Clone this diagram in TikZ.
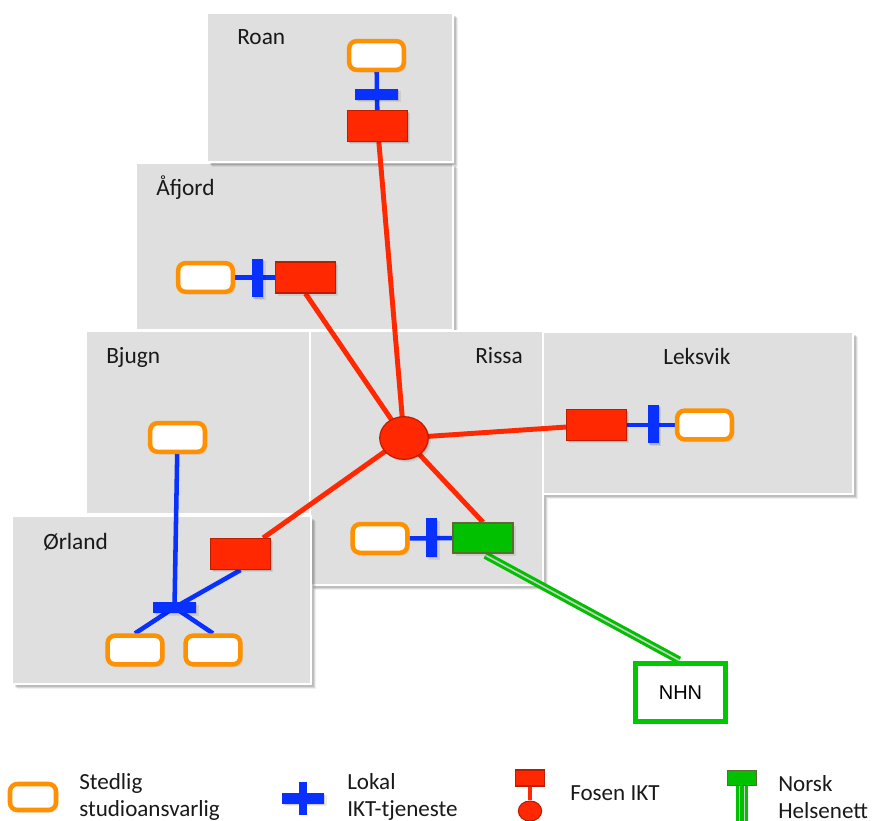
\documentclass[tikz,border=0pt]{standalone}
\usepackage{fontspec}
\setmainfont{Carlito}
\newfontfamily\arialfont{Liberation Sans}
\usetikzlibrary{shadows,shapes.geometric}
\definecolor{panelgray}{RGB}{223,223,223}
\definecolor{hred}{RGB}{255,40,0}
\definecolor{hredd}{RGB}{185,30,0}
\definecolor{hblue}{RGB}{8,48,255}
\definecolor{horange}{RGB}{255,145,0}
\definecolor{hgreen}{RGB}{0,192,0}
\definecolor{hgreend}{RGB}{95,105,50}
\definecolor{nhngreen}{RGB}{0,200,0}
\definecolor{lgray}{RGB}{205,205,205}
\pgfdeclarelayer{panels}
\pgfdeclarelayer{lines}
\pgfsetlayers{panels,lines,main}
\begin{document}
\begin{tikzpicture}[x=0.75pt,y=-0.75pt,
 panelshadow/.style={
   drop shadow={shadow xshift=1pt, shadow yshift=-1pt, opacity=0.12, fill=black},
   drop shadow={shadow xshift=2pt, shadow yshift=-2pt, opacity=0.12, fill=black},
   drop shadow={shadow xshift=3pt, shadow yshift=-3pt, opacity=0.10, fill=black},
   drop shadow={shadow xshift=4pt, shadow yshift=-4pt, opacity=0.06, fill=black}},
 smallshadow/.style={
   drop shadow={shadow xshift=1pt, shadow yshift=-1pt, opacity=0.12, fill=black},
   drop shadow={shadow xshift=2pt, shadow yshift=-2pt, opacity=0.08, fill=black}},
 panel/.style={fill=panelgray, draw=white, line width=1.5pt, panelshadow},
 lbl/.style={anchor=base west, font=\fontsize{17.5}{20}\selectfont, text=black!90, inner sep=0pt},
 leg/.style={anchor=west, align=left, font=\fontsize{17.3}{20.5}\selectfont, text=black!90, inner sep=0pt},
 stud/.style={draw=horange, fill=white, line width=3.4pt, rounded corners=5.5pt,
   minimum width=41pt, minimum height=21.5pt, inner sep=0pt, smallshadow},
 fosen/.style={draw=hredd, fill=hred, line width=0.9pt,
   minimum width=45pt, minimum height=23.25pt, inner sep=0pt, smallshadow},
 nhgreen/.style={draw=hgreend, fill=hgreen, line width=1.2pt,
   minimum width=45pt, minimum height=22.5pt, inner sep=0pt, smallshadow},
 hbar/.style={fill=hblue, minimum width=32.25pt, minimum height=8.25pt, inner sep=0pt, smallshadow},
 vbar/.style={fill=hblue, minimum width=8.25pt, minimum height=29pt, inner sep=0pt, smallshadow},
 hubstyle/.style={ellipse, draw=hredd, fill=hred, line width=0.9pt,
   minimum width=36.4pt, minimum height=32pt, inner sep=0pt, smallshadow},
 redline/.style={draw=hred, line width=3.7pt},
 blueline/.style={draw=hblue, line width=3.4pt},
 nhnline/.style={draw=hgreen, line width=2.3pt, double=lgray, double distance=1.2pt},
]
\useasboundingbox (0,0) rectangle (875,821);

% panels
\begin{pgfonlayer}{panels}
\draw[panel] (136,163) rectangle (453,330);
\draw[panel] (207,13) rectangle (453,162);
\draw[panel] (86,331) rectangle (310,514);
\draw[panel] (310,331) rectangle (543,585);
\draw[panel] (543,332) rectangle (853,494);
\draw[panel] (12,516) rectangle (311,684);
\end{pgfonlayer}

% region labels
\node[lbl] (lroan) at (237,45) {Roan};
\node[lbl] (lafj) at (156,195) {Åfjord};
\node[lbl] (lbju) at (106,363) {Bjugn};
\node[lbl] (lorl) at (43,549) {Ørland};
\node[lbl] (lris) at (475,363) {Rissa};
\node[lbl] (llek) at (663,364) {Leksvik};

% Roan
\node[stud] (roanS) at (376.5,55.5) {};
\node[fosen] (roanF) at (377.5,126) {};
% Åfjord
\node[stud] (afS) at (205.5,277.5) {};
\node[fosen] (afF) at (305.5,277.5) {};
% Bjugn
\node[stud] (bjS) at (177.5,437.5) {};
% Ørland
\node[fosen] (orF) at (240.5,554) {};
\node[stud] (orS1) at (135,650) {};
\node[stud] (orS2) at (213,650) {};
% Rissa
\node[stud] (riS) at (380,538.5) {};
\node[nhgreen] (riG) at (483,538) {};
\node[hubstyle] (hub) at (404,438) {};
% Leksvik
\node[fosen] (lkF) at (596.5,425) {};
\node[stud] (lkS) at (704.5,425) {};
% NHN
\node[draw=nhngreen, fill=white, line width=3.8pt, minimum width=67.5pt, minimum height=43.5pt,
  inner sep=0pt, smallshadow, font=\arialfont\fontsize{15}{18}\selectfont] (nhn) at (680.5,692.5) {NHN};

% blue bars
\node[hbar] (roanB) at (376.5,94) {};
\node[vbar] (afB) at (257.5,278) {};
\node[hbar] (orB) at (174.5,607.5) {};
\node[vbar] (riB) at (431.5,537.5) {};
\node[vbar] (lkB) at (653,424) {};

% connectors
\begin{pgfonlayer}{lines}
\draw[blueline] (roanS) -- (roanF);
\draw[blueline] (afS) -- (afF);
\draw[blueline] (riS) -- (riG);
\draw[blueline] (lkF) -- (lkS);
\draw[blueline] (bjS) -- (orB.center);
\draw[blueline] (orF.south) -- (orB.center);
\draw[blueline] (orB.center) -- (orS1.north);
\draw[blueline] (orB.center) -- (orS2.north);
\draw[redline] (roanF) -- (hub.center);
\draw[redline] (afF.south) -- (hub.center);
\draw[redline] (orF) -- (hub.center);
\draw[redline] (lkF) -- (hub.center);
\draw[redline] (hub.center) -- (riG.north);
\draw[nhnline, shorten <=2pt, shorten >=1pt] (riG.south) -- (nhn.north);
\end{pgfonlayer}

% legend
\node[stud, minimum width=34.5pt, minimum height=19.5pt] (lgS) at (33,797) {};
\node[leg] (tS) at (79,797) {Stedlig\\studioansvarlig};
\node[fill=hblue, minimum width=31.5pt, minimum height=8.25pt, inner sep=0pt, smallshadow] (lgH) at (303,798) {};
\node[fill=hblue, minimum width=6pt, minimum height=24.75pt, inner sep=0pt] (lgV) at (303,798) {};
\node[leg] (tL) at (347,797) {Lokal\\IKT-tjeneste};
\node[draw=hredd, fill=hred, line width=0.8pt, minimum width=21.5pt, minimum height=12pt, inner sep=0pt] (lgF) at (530,778) {};
\node[ellipse, draw=hredd, fill=hred, line width=0.8pt, minimum width=17.5pt, minimum height=15pt, inner sep=0pt] (lgC) at (530,811) {};
\node[leg, anchor=base west] (tF) at (570,800) {Fosen IKT};
\node[draw=hgreend, fill=hgreen, line width=0.8pt, minimum width=21.5pt, minimum height=11.5pt, inner sep=0pt] (lgG) at (742,778) {};
\coordinate (lgE) at (742,821);
\node[leg] (tN) at (778,797) {Norsk\\Helsenett};
\begin{pgfonlayer}{lines}
\draw[draw=hred, line width=2.8pt] (lgF) -- (lgC);
\draw[draw=lgray, line width=9.5pt] (lgG.south) -- (lgE);
\draw[draw=hgreen, line width=2.3pt] ([xshift=-3.4pt]lgG.south) -- ([xshift=-3.4pt]lgE);
\draw[draw=hgreen, line width=2.3pt] (lgG.south) -- (lgE);
\draw[draw=hgreen, line width=2.3pt] ([xshift=3.4pt]lgG.south) -- ([xshift=3.4pt]lgE);
\end{pgfonlayer}
\end{tikzpicture}
\end{document}
